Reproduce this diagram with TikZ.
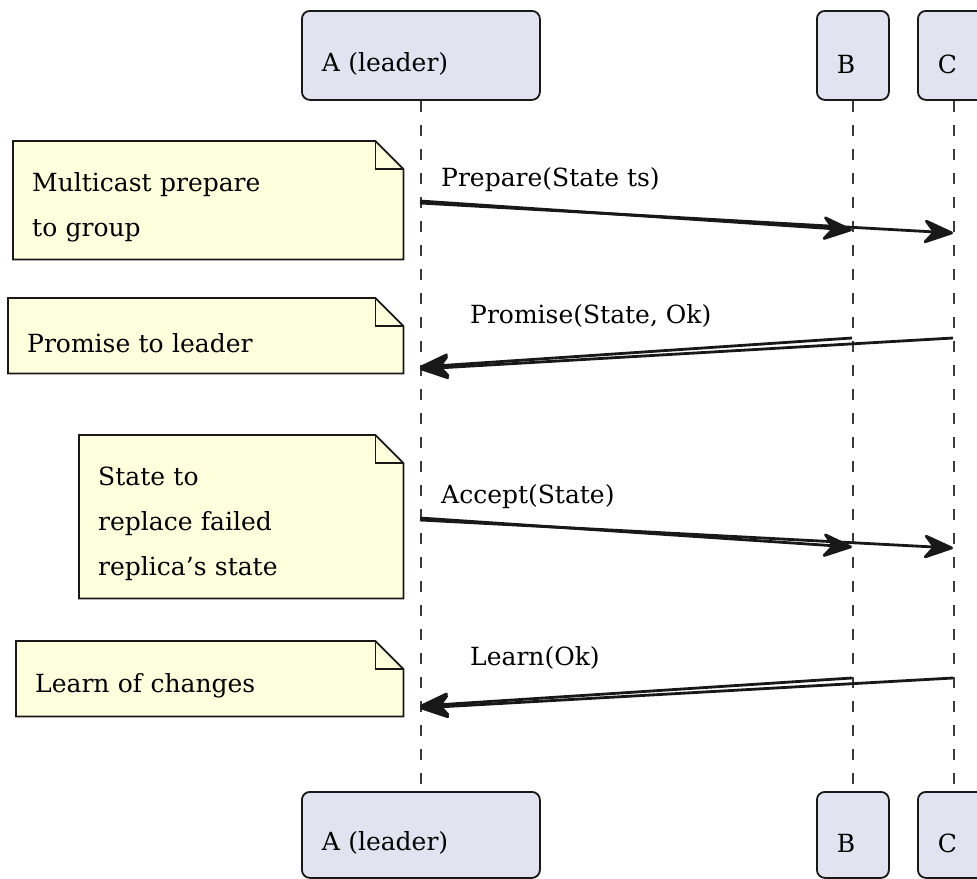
\documentclass[tikz,border=0pt]{standalone}
\usepackage{fontspec}
\setmainfont{DejaVu Serif}
\usepackage{tikz}
\usetikzlibrary{arrows.meta}
\usetikzlibrary{backgrounds}
\definecolor{partfill}{HTML}{E2E2F0}
\definecolor{notefill}{HTML}{FEFFDD}
\definecolor{edgecol}{HTML}{181818}

\begin{document}
\begin{tikzpicture}[x=1pt, y=-1pt,
		every node/.style={font=\fontsize{25}{45}\selectfont},
		partnode/.style={rectangle,rounded corners=8pt,draw=edgecol,fill=partfill,line width=1.8pt,minimum height=89pt,inner xsep=20pt,align=left,text height=36pt,anchor=north west},
		notenode/.style={rectangle,inner xsep=19pt,align=left,text height=33pt,anchor=north west},
		notepath/.style={draw=edgecol,fill=notefill,line width=1.8pt},
		lifeline/.style={draw=edgecol!85,line width=1.8pt,dash pattern=on 11pt off 13pt},
		msg/.style={draw=edgecol,line width=2.8pt,-{Stealth[length=34pt,width=27pt,inset=11pt,round]}},
		msglabel/.style={anchor=base west,inner sep=0pt}
		]
		\path[use as bounding box, clip] (0,0) rectangle (977,878);
		% participants, top and bottom
		\node (ta) [partnode,text width=198pt] at (301,10) {A (leader)};
		\node (tb) [partnode,text width=32pt] at (816,10) {B};
		\node (tc) [partnode,text width=32pt] at (917,10) {C};
		\node (ba) [partnode,text width=198pt,minimum height=86pt] at (301,791) {A (leader)};
		\node (bb) [partnode,text width=32pt,minimum height=86pt] at (816,791) {B};
		\node (bc) [partnode,text width=32pt,minimum height=86pt] at (917,791) {C};
		\draw[lifeline] (ta.south) -- (ba.north);
		\draw[lifeline] (tb.south) -- (bb.north);
		\draw[lifeline] (tc.south) -- (bc.north);
		% notes
		\node (n1) [notenode,minimum width=390pt,minimum height=118pt,text width=352pt] at (13,141) {Multicast prepare\\to group};
		\node (n2) [notenode,minimum width=395pt,minimum height=75pt,text width=357pt] at (8,298) {Promise to leader};
		\node (n3) [notenode,minimum width=324pt,minimum height=163pt,text width=286pt] at (79,435) {State to\\replace failed\\replica's state};
		\node (n4) [notenode,minimum width=387pt,minimum height=75pt,text width=349pt] at (16,641) {Learn of changes};
		\begin{scope}[on background layer]
			\foreach \n in {n1,n2,n3,n4} {
				\draw[notepath] (\n.north west) -- ([xshift=-28pt]\n.north east) -- ([yshift=-28pt]\n.north east) -- (\n.south east) -- (\n.south west) -- cycle;
				\draw[notepath,fill=none] ([xshift=-28pt]\n.north east) |- ([yshift=-28pt]\n.north east);
			}
		\end{scope}
		% message ends on the lifelines
		\coordinate (a1) at (420,201); \coordinate (a1c) at (420,203);
		\coordinate (b1) at (852,230); \coordinate (c1) at (953,233);
		\coordinate (b2) at (852,338); \coordinate (c2) at (953,338);
		\coordinate (a2) at (420,367); \coordinate (a2c) at (420,369);
		\coordinate (a3) at (420,518); \coordinate (a3c) at (420,520);
		\coordinate (b3) at (852,547); \coordinate (c3) at (953,548);
		\coordinate (b4) at (852,678); \coordinate (c4) at (953,678);
		\coordinate (a4) at (420,706); \coordinate (a4c) at (420,708);
		\draw[msg] (a1) -- (b1);
		\draw[msg] (a1c) -- (c1);
		\draw[msg] (b2) -- (a2);
		\draw[msg] (c2) -- (a2c);
		\draw[msg] (a3) -- (b3);
		\draw[msg] (a3c) -- (c3);
		\draw[msg] (b4) -- (a4);
		\draw[msg] (c4) -- (a4c);
		\node (l1) [msglabel] at (441,186) {Prepare(State ts)};
		\node (l2) [msglabel] at (470,323) {Promise(State, Ok)};
		\node (l3) [msglabel] at (441,503) {Accept(State)};
		\node (l4) [msglabel] at (470,665) {Learn(Ok)};
\end{tikzpicture}
\end{document}
